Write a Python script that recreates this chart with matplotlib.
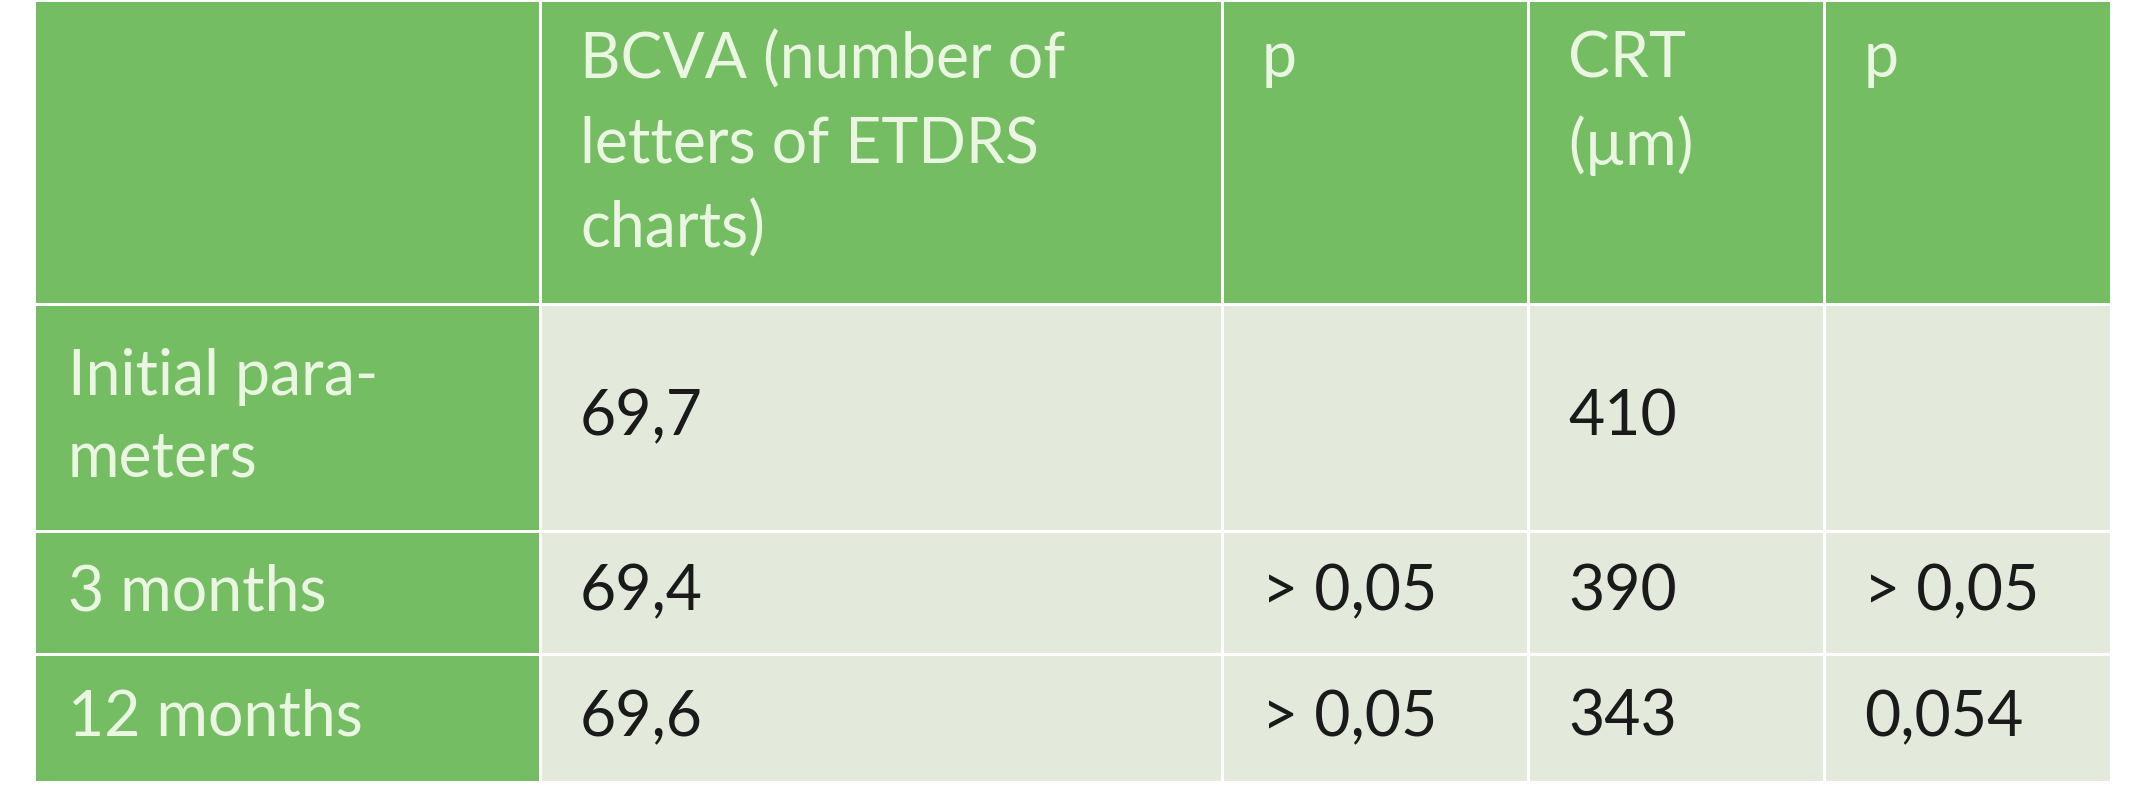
import matplotlib
matplotlib.use("Agg")
import matplotlib.pyplot as plt
from matplotlib.patches import Rectangle

headers = ["", "BCVA (number of\nletters of ETDRS\ncharts)", "p", "CRT\n(µm)", "p"]
row_labels = ["Initial para-\nmeters", "3 months", "12 months"]
bcva = ["69,7", "69,4", "69,6"]
p_bcva = ["", "> 0,05", "> 0,05"]
crt = ["410", "390", "343"]
p_crt = ["", "> 0,05", "0,054"]

W, H = 2145, 800
col_x = [34, 540, 1222, 1528, 1824, 2111]
row_y = [0, 304, 531, 654, 782]
green = "#74bd62"
light = "#e3eadc"
gap = 3

fig = plt.figure(figsize=(W/100, H/100), dpi=100)
ax = fig.add_axes([0, 0, 1, 1])
ax.set_xlim(0, W); ax.set_ylim(H, 0); ax.axis("off")
fig.patch.set_facecolor("white")

rows = [headers] + [[row_labels[i], bcva[i], p_bcva[i], crt[i], p_crt[i]] for i in range(3)]
font = dict(family=["Lato", "DejaVu Sans"], fontsize=45)
for r in range(4):
    y0, y1 = row_y[r], row_y[r+1]
    for c in range(5):
        x0, x1 = col_x[c], col_x[c+1]
        fc = green if (r == 0 or c == 0) else light
        ax.add_patch(Rectangle((x0 + gap/2, y0 + gap/2), x1 - x0 - gap, y1 - y0 - gap, fc=fc, ec="none"))
        txt = rows[r][c]
        if not txt:
            continue
        tc = "#eaf6e2" if (r == 0 or c == 0) else "#1a1a1a"
        tx = x0 + (34 if c == 0 else 40)
        if r == 0:
            ax.text(tx, 30, txt, va="top", ha="left", color=tc, linespacing=1.55, **font)
        else:
            ax.text(tx, (y0 + y1) / 2, txt, va="center", ha="left", color=tc, linespacing=1.5, **font)

fig.savefig("out.png", dpi=100)
